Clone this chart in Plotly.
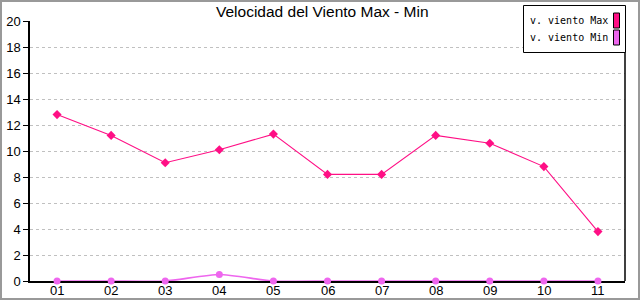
import plotly.graph_objects as go

categories = ["01", "02", "03", "04", "05", "06", "07", "08", "09", "10", "11"]
viento_max = [12.8, 11.2, 9.1, 10.1, 11.3, 8.2, 8.2, 11.2, 10.6, 8.8, 3.8]
viento_min = [0, 0, 0, 0.5, 0, 0, 0, 0, 0, 0, 0]
series_names = ["v. viento Max", "v. viento Min"]
colors = ["#ff0f85", "#ee66ee"]
title = "Velocidad del Viento Max - Min"

W, H = 640, 300
L, R, T, B = 30, 15, 21, 19
pw, ph = W - L - R, H - T - B

def px(x):
    return (x - L) / pw

def py(y):
    return 1 - (y - T) / ph

fig = go.Figure()
fig.add_trace(go.Scatter(x=categories, y=viento_min, mode="lines+markers", name=series_names[1],
                         line=dict(color=colors[1], width=1.6, shape="spline", smoothing=0.6),
                         marker=dict(symbol="circle", size=7, color=colors[1]), cliponaxis=False))
fig.add_trace(go.Scatter(x=categories, y=viento_max, mode="lines+markers", name=series_names[0],
                         line=dict(color=colors[0], width=1.1),
                         marker=dict(symbol="diamond", size=7, color=colors[0]), cliponaxis=False))

shapes = [
    # outer frame
    dict(type="rect", xref="paper", yref="paper", x0=px(1), x1=px(W - 1), y0=py(1), y1=py(H - 1),
         line=dict(color="#999999", width=2), fillcolor="rgba(0,0,0,0)", layer="above"),
    # right axis line
    dict(type="line", xref="paper", yref="paper", x0=1, x1=1, y0=0, y1=1,
         line=dict(color="black", width=1.5), layer="above"),
    # legend box
    dict(type="rect", xref="paper", yref="paper", x0=px(523.5), x1=px(625.5), y0=py(5.5), y1=py(52.5),
         line=dict(color="black", width=1), fillcolor="white", layer="above"),
]
annotations = [dict(text=title, xref="paper", yref="paper", x=px(322), y=py(11.5), showarrow=False,
                    xanchor="center", yanchor="middle",
                    font=dict(family="Liberation Sans, Arial", size=15.5, color="black"))]
# category labels under the x axis (category axis positions are indices)
for i, c in enumerate(categories):
    annotations.append(dict(text=c, xref="x", yref="paper", x=i, y=py(290.5), showarrow=False,
                            xanchor="center", yanchor="middle",
                            font=dict(family="Liberation Sans, Arial", size=13, color="black")))
for i, (name, c) in enumerate(zip(series_names, colors)):
    yc = 20.5 + i * 17
    shapes.append(dict(type="rect", xref="paper", yref="paper", x0=px(613.5), x1=px(619.5),
                       y0=py(yc - 7.5), y1=py(yc + 7.5), line=dict(color="black", width=1),
                       fillcolor=c, layer="above"))
    annotations.append(dict(text=name, xref="paper", yref="paper", x=px(528), y=py(yc), showarrow=False,
                            xanchor="left", yanchor="middle",
                            font=dict(family="DejaVu Sans Mono, monospace", size=10, color="black")))

fig.update_layout(
    width=W, height=H, margin=dict(l=L, r=R, t=T, b=B, autoexpand=False),
    paper_bgcolor="white", plot_bgcolor="white", showlegend=False,
    shapes=shapes, annotations=annotations,
    font=dict(family="Liberation Sans, Arial", size=13, color="black"),
)
fig.update_xaxes(type="category", range=[-0.5, 10.5], showgrid=False, showline=True,
                 linecolor="black", linewidth=1.5, ticks="", showticklabels=False,
                 automargin=False, fixedrange=True, layer="below traces")
fig.update_yaxes(range=[0, 20], dtick=2, showgrid=True, gridcolor="#c0c0c0", griddash="3px,3px",
                 gridwidth=1, showline=True, linecolor="black", linewidth=1.5, ticks="outside",
                 ticklen=5, tickcolor="black", zeroline=False, tickfont=dict(size=13),
                 automargin=False, layer="below traces")
fig.write_html("out.html")
